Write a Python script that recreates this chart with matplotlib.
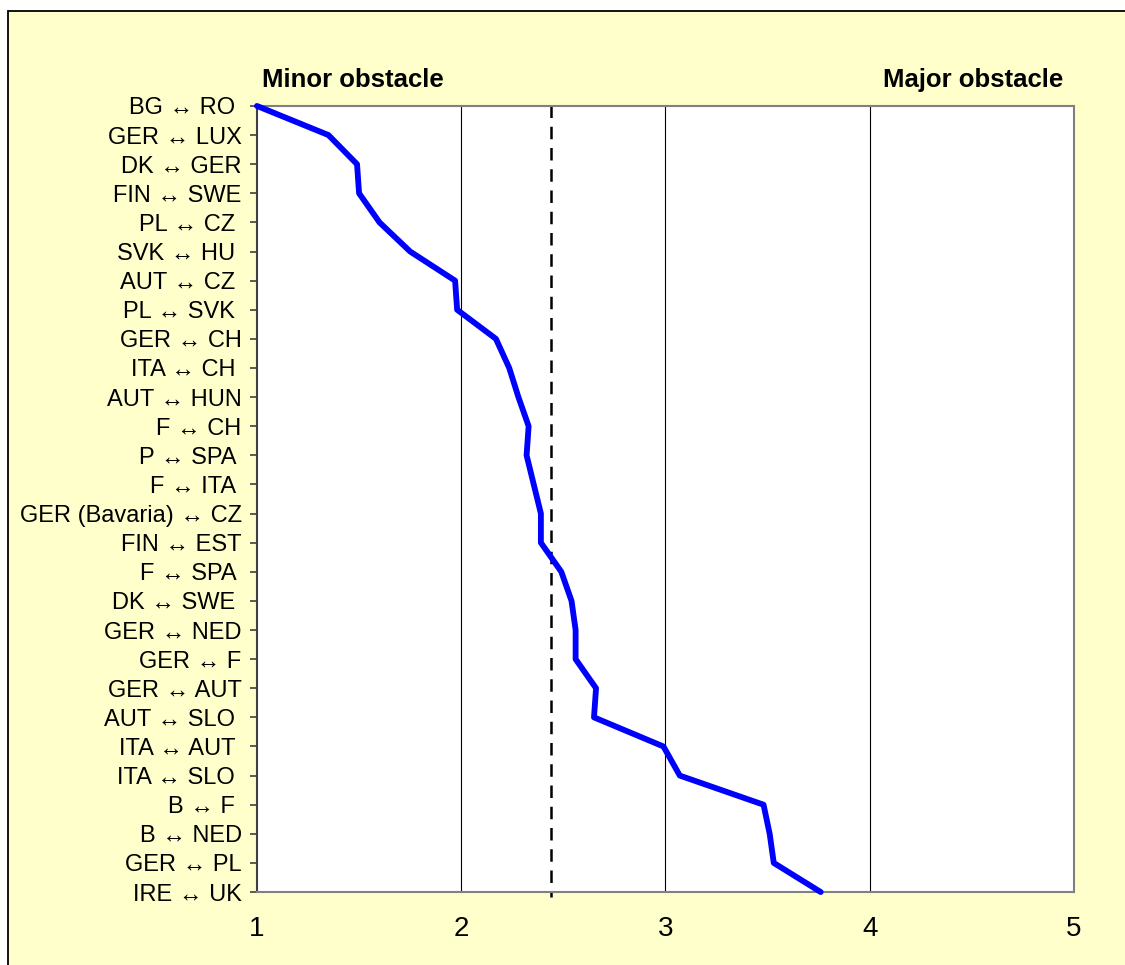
import matplotlib
matplotlib.use("Agg")
import matplotlib.pyplot as plt
from matplotlib.patches import Rectangle

plt.rcParams["font.family"] = ["Liberation Sans", "DejaVu Sans"]

# border pairs, ordered from smallest to largest obstacle score
pairs = [
    "BG ↔ RO ", "GER ↔ LUX", "DK ↔ GER", "FIN ↔ SWE", "PL ↔ CZ ",
    "SVK ↔ HU ", "AUT ↔ CZ ", "PL ↔ SVK ", "GER ↔ CH", "ITA ↔ CH ",
    "AUT ↔ HUN", "F ↔ CH", "P ↔ SPA ", "F ↔ ITA ", "GER (Bavaria) ↔ CZ",
    "FIN ↔ EST", "F ↔ SPA ", "DK ↔ SWE ", "GER ↔ NED", "GER ↔ F",
    "GER ↔ AUT", "AUT ↔ SLO ", "ITA ↔ AUT ", "ITA ↔ SLO ", "B ↔ F ",
    "B ↔ NED", "GER ↔ PL", "IRE ↔ UK",
]
scores = [
    1.00, 1.35, 1.49, 1.50, 1.60,
    1.75, 1.97, 1.98, 2.17, 2.235,
    2.28, 2.33, 2.32, 2.355, 2.39,
    2.39, 2.49, 2.54, 2.56, 2.56,
    2.66, 2.65, 2.99, 3.07, 3.48,
    3.51, 3.53, 3.76,
]
threshold = 2.44
x_ticks = [1, 2, 3, 4, 5]
grid_x = [2, 3, 4]

fig = plt.figure(figsize=(11.25, 9.65), dpi=100, facecolor="white")
# pale yellow chart area with a dark frame, kept behind the axes
fig.patches.append(Rectangle((0.0071, -0.1), 1.1, 0.9886 + 0.1,
                             transform=fig.transFigure, facecolor="#FFFFCC",
                             edgecolor="black", linewidth=1.3, zorder=-10))

ax = fig.add_axes([0.2284, 0.0756, 0.9547 - 0.2284, 0.8902 - 0.0756])
ax.set_facecolor("white")

ypos = list(range(len(pairs)))
for gx in grid_x:
    ax.axvline(gx, color="black", linewidth=0.8, zorder=1)
ax.plot([threshold, threshold], [-0.03, len(pairs) - 1 + 0.18], color="black",
        linewidth=1.8, linestyle=(0, (5, 3.5)), clip_on=False, zorder=2)
ax.plot(scores, ypos, color="#0000FF", linewidth=4.2,
        solid_joinstyle="round", solid_capstyle="round", clip_on=False, zorder=3)

ax.set_xlim(1, 5)
ax.set_ylim(len(pairs) - 1, 0)
ax.set_xticks(x_ticks)
ax.set_xticklabels([str(v) for v in x_ticks], fontsize=20)
ax.set_yticks(ypos)
ax.set_yticklabels(pairs, fontsize=17)
ax.tick_params(axis="x", length=0, pad=17)
ax.tick_params(axis="y", length=5, width=1.2, color="#404040", pad=6)

for side in ["top", "right", "bottom"]:
    ax.spines[side].set_color("#808080")
    ax.spines[side].set_linewidth(1.5)
ax.spines["left"].set_color("#404040")
ax.spines["left"].set_linewidth(1.5)

fig.text(0.2329, 0.910, "Minor obstacle", fontsize=18.5, fontweight="bold",
         ha="left", va="baseline")
fig.text(0.785, 0.910, "Major obstacle", fontsize=18.5, fontweight="bold",
         ha="left", va="baseline")

fig.savefig("out.png", dpi=100, facecolor="white")
